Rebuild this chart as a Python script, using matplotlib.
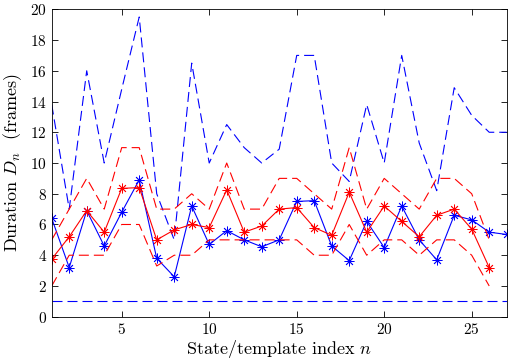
import numpy as np
import matplotlib
matplotlib.use("Agg")
import matplotlib.pyplot as plt

# ---- data ----
n_blue = list(range(1, 28))
blue_mean = [6.4, 3.2, 6.9, 4.6, 6.8, 8.9, 3.8, 2.6, 7.2, 4.7, 5.6, 5.0, 4.55, 5.0,
             7.5, 7.55, 4.6, 3.65, 6.2, 4.5, 7.2, 5.0, 3.7, 6.6, 6.3, 5.5, 5.35]
blue_upper = [13.8, 7.0, 16.0, 10.0, 14.8, 19.5, 8.0, 5.0, 16.5, 10.0, 12.5, 11.0, 10.0, 10.9,
              17.0, 17.0, 10.0, 8.8, 13.8, 10.0, 17.0, 11.3, 8.2, 14.9, 13.1, 12.0, 12.0]
blue_lower = [1.0] * 27

n_red = list(range(1, 27))
red_mean = [3.75, 5.2, 6.9, 5.5, 8.35, 8.4, 5.0, 5.65, 6.0, 5.8, 8.25, 5.5, 5.9, 7.0,
            7.1, 5.8, 5.3, 8.1, 5.5, 7.2, 6.2, 5.2, 6.6, 7.0, 5.7, 3.2]
red_upper = [5, 7, 9, 7, 11, 11, 7, 7, 8, 7, 10, 7, 7, 9, 9, 8, 7, 11, 7, 9, 8, 7, 9, 9, 8, 5]
red_lower = [2, 4, 4, 4, 6, 6, 3.3, 4, 4, 5, 5, 5, 5, 5, 5, 4, 4, 6, 4, 5, 5, 4, 5, 5, 4, 2]

xticks = [5, 10, 15, 20, 25]
yticks = list(range(0, 21, 2))

plt.rcParams['font.family'] = ['cmr10', 'DejaVu Serif']
plt.rcParams['mathtext.fontset'] = 'cm'
plt.rcParams['axes.formatter.use_mathtext'] = True

fig = plt.figure(figsize=(5.09, 3.59), dpi=100)
ax = fig.add_axes([0.1016, 0.1178, 0.8939, 0.8563])

lw = 0.8
dash = (0, (9, 4.5))
ast = (8, 2, 0)

ax.plot(n_blue, blue_upper, color='blue', lw=lw, linestyle=dash)
ax.plot(n_blue, blue_lower, color='blue', lw=lw, linestyle=dash)
ax.plot(n_blue, blue_mean, color='blue', lw=lw, marker=ast, markersize=7,
        markeredgewidth=0.6)

ax.plot(n_red, red_upper, color='red', lw=lw, linestyle=dash)
ax.plot(n_red, red_lower, color='red', lw=lw, linestyle=dash)
ax.plot(n_red, red_mean, color='red', lw=lw, marker=ast, markersize=7,
        markeredgewidth=0.6)

ax.set_xlim(1, 27)
ax.set_ylim(0, 20)
ax.set_xticks(xticks)
ax.set_yticks(yticks)
ax.tick_params(direction='in', top=True, right=True, length=4, width=0.6,
               labelsize=11)
for s in ax.spines.values():
    s.set_linewidth(0.6)

ax.set_xlabel(r'State/template index $n$', fontsize=13, labelpad=1)
ax.set_ylabel(r'Duration $D_n$  (frames)', fontsize=13, labelpad=4)

fig.savefig('out.png', dpi=100)
